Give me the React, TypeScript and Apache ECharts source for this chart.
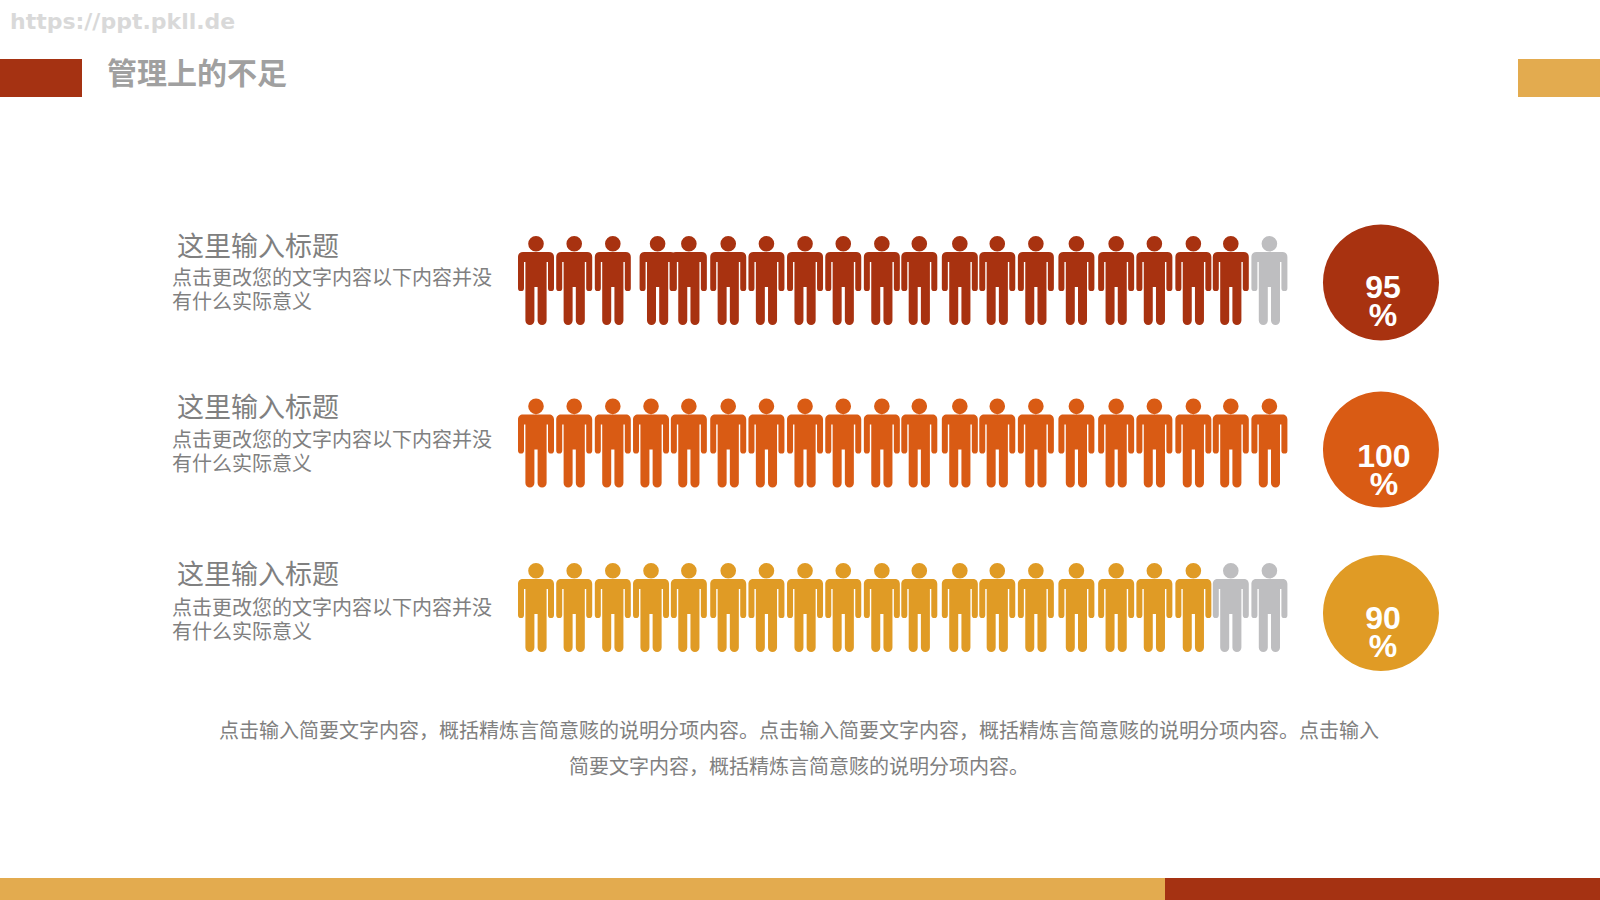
import React, { useEffect, useRef } from "react";
import * as echarts from "echarts";

const watermark = "https://ppt.pkll.de";
const pageTitle = "管理上的不足";
const rowTitles = ["这里输入标题", "这里输入标题", "这里输入标题"];
const rowLine1 = "点击更改您的文字内容以下内容并没";
const rowLine2 = "有什么实际意义";
const footerLines = [
  "点击输入简要文字内容，概括精炼言简意赅的说明分项内容。点击输入简要文字内容，概括精炼言简意赅的说明分项内容。点击输入",
  "简要文字内容，概括精炼言简意赅的说明分项内容。",
];

const percents = [95, 100, 90];
const filledCounts = [19, 20, 18];
const rowColors = ["#A83210", "#D95B14", "#E09B25"];
const emptyColor = "#BEBEC0";

const personSlotsRow1 = [0, 0.99, 1.99, 3.15, 3.96, 4.98, 5.97, 6.97, 7.96, 8.96, 9.93, 10.98, 11.95, 12.95, 14.0, 15.03, 16.02, 17.03, 18.0, 19];
const personSlotsOther = [0, 0.99, 1.99, 2.98, 3.96, 4.98, 5.97, 6.97, 7.96, 8.96, 9.93, 10.98, 11.95, 12.95, 14.0, 15.03, 16.02, 17.03, 18.0, 19];
const personSlots = [personSlotsRow1, personSlotsOther, personSlotsOther];
const personRows = [-0.003, 0.991, 1.997];
const circleSlot = 21.89;
const circleRows = [0.009, 1.03, 2.03];
const labelOffsetY = [19, 21, 19];
const labelOffsetX = [2, 3, 2];

const titleY = [244, 405, 572];
const bodyY = [276, 438, 606];

const PERSON =
  "path://M10.2 7.8a7.8 7.8 0 1 1 15.6 0a7.8 7.8 0 1 1 -15.6 0ZM5 16H31C34 16 36 18 36 21V52A3 3 0 0 1 30 52V26H28.6V84.5A4.5 4.5 0 0 1 19.6 84.5V51H16.4V84.5A4.5 4.5 0 0 1 7.4 84.5V26H6V52A3 3 0 0 1 0 52V21C0 18 2 16 5 16Z";

const CJK = '"Noto Sans CJK SC", "Noto Sans", sans-serif';
const txt = (text: string, x: number, y: number, fontSize: number, fill: string, extra: any = {}) => ({
  type: "text",
  silent: true,
  style: { text, x, y, fontSize, fill, fontFamily: CJK, textVerticalAlign: "middle", ...extra },
});

export default function App() {
  const ref = useRef<HTMLDivElement>(null);
  useEffect(() => {
    document.body.style.margin = "0";
    const chart = echarts.init(ref.current!, undefined, { renderer: "svg" });

    const series: any[] = [];
    rowColors.forEach((color, r) => {
      const pts = personSlots[r].map((s) => [s, personRows[r]]);
      series.push({
        type: "scatter", name: `row${r}`, clip: false, symbol: PERSON, symbolSize: [36, 89], silent: true,
        itemStyle: { color, opacity: 1 }, data: pts.slice(0, filledCounts[r]),
      });
      series.push({
        type: "scatter", name: `row${r}-rest`, clip: false, symbol: PERSON, symbolSize: [36, 89], silent: true,
        itemStyle: { color: emptyColor, opacity: 1 }, data: pts.slice(filledCounts[r]),
      });
      series.push({
        type: "scatter", name: `pct${r}`, clip: false, symbol: "circle", symbolSize: 116, silent: true,
        itemStyle: { color, opacity: 1 },
        data: [[circleSlot, circleRows[r], percents[r]]],
        label: {
          show: true, position: "inside", offset: [labelOffsetX[r], labelOffsetY[r]], color: "#fff", fontFamily: '"Liberation Sans", Arial, sans-serif',
          fontWeight: "bold", fontSize: 32, lineHeight: 28, align: "center",
          formatter: (p: any) => `${p.value[2]}\n%`,
        },
      });
    });

    const graphic: any[] = [
      { type: "rect", shape: { x: 0, y: 59, width: 82, height: 38 }, style: { fill: "#A53212" } },
      { type: "rect", shape: { x: 1518, y: 59, width: 82, height: 38 }, style: { fill: "#E3AB4F" } },
      { type: "rect", shape: { x: 0, y: 878, width: 1165, height: 22 }, style: { fill: "#E3AB4F" } },
      { type: "rect", shape: { x: 1165, y: 878, width: 435, height: 22 }, style: { fill: "#A53212" } },
      txt(watermark, 10, 21, 22, "#D9D9D9", { fontFamily: '"DejaVu Sans", sans-serif', fontWeight: "bold" }),
      txt(pageTitle, 107, 71, 30, "#A0A0A0", { fontWeight: "bold" }),
    ];
    titleY.forEach((y, i) => {
      graphic.push(txt(rowTitles[i], 177, y, 27, "#808080"));
      graphic.push(txt(rowLine1, 172, bodyY[i], 20, "#808080"));
      graphic.push(txt(rowLine2, 172, bodyY[i] + 24, 20, "#808080"));
    });
    footerLines.forEach((line, i) => {
      graphic.push(txt(line, 799, 729 + i * 36, 20, "#808080", { textAlign: "center" }));
    });

    chart.setOption({
      animation: false,
      backgroundColor: "#ffffff",
      grid: { left: 497.4, top: 117.5, width: 926.4, height: 654 },
      xAxis: { type: "value", min: -1, max: 23, show: false },
      yAxis: { type: "value", min: -1, max: 3, inverse: true, show: false },
      series,
      graphic,
    });
    return () => chart.dispose();
  }, []);
  return <div ref={ref} style={{ width: 1600, height: 900 }} />;
}
